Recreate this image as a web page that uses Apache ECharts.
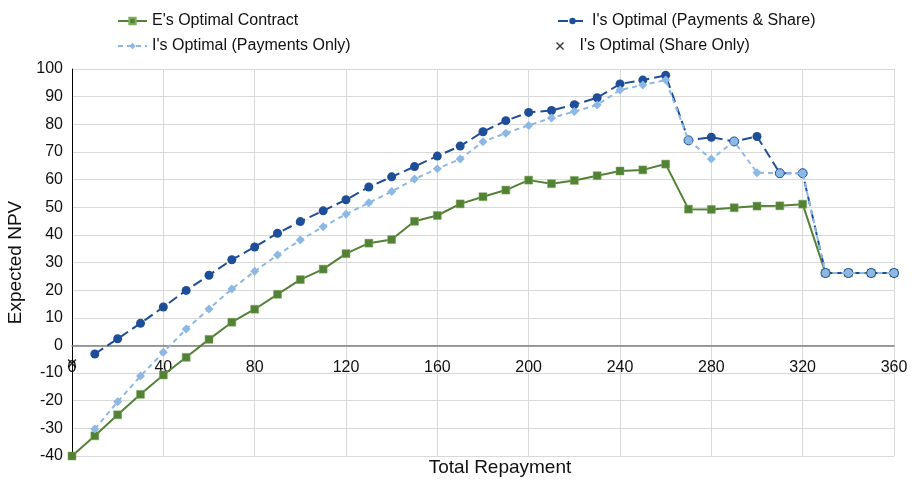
<!DOCTYPE html>
<html>
<head>
<meta charset="utf-8">
<script src="https://cdn.jsdelivr.net/npm/echarts@6/dist/echarts.min.js"></script>
<style>
html,body{margin:0;padding:0;background:#fff;}
#chart{width:918px;height:482px;}
</style>
</head>
<body>
<div id="chart"></div>
<script>
// Total repayment (x values)
var repayment = [0,10,20,30,40,50,60,70,80,90,100,110,120,130,140,150,160,170,180,190,200,210,220,230,240,250,260,270,280,290,300,310,320,330,340,350,360];
// E's Optimal Contract
var eOptimal = [-40,-32.7,-25.1,-17.7,-10.7,-4.3,2.2,8.4,13.1,18.5,23.8,27.6,33.2,37.0,38.3,44.9,47.0,51.2,53.8,56.2,59.8,58.5,59.7,61.4,63.1,63.5,65.6,49.3,49.2,49.8,50.4,50.5,51.1,26.2,26.2,26.2,26.2];
// I's Optimal (Payments & Share)
var iPayShare = [null,-3.1,2.4,8.0,13.9,19.9,25.4,31.0,35.6,40.6,44.8,48.7,52.7,57.3,61.0,64.7,68.5,72.1,77.3,81.3,84.3,85.0,87.1,89.6,94.6,96.0,97.7,74.2,75.3,73.8,75.6,62.3,62.3,26.2,26.2,26.2,26.2];
// I's Optimal (Payments Only)
var iPayOnly = [null,-30.2,-20.4,-11.1,-2.5,5.9,13.2,20.4,26.8,32.7,38.1,42.9,47.5,51.6,55.7,60.2,63.9,67.4,73.7,76.8,79.6,82.3,84.6,87.0,92.4,94.2,96.0,74.2,67.4,73.8,62.5,62.3,62.3,26.2,26.2,26.2,26.2];
// I's Optimal (Share Only)
var shareOnlyX = [0];
var shareOnlyY = [-6.5];

var xTicks = {min:0, max:360, interval:40};
var yTicks = {min:-40, max:100, interval:10};

var GREEN = '#538135';
var DARK = '#1F4E98';
var LIGHT = '#8DB8E4';
var FONT = 'Liberation Sans';

function pairs(ys){
  var out = [];
  for (var i=0;i<repayment.length;i++){ if (ys[i]!==null) out.push([repayment[i], ys[i]]); }
  return out;
}
var darkData = [];
var lightData = [];
for (var i=0;i<repayment.length;i++){
  if (iPayShare[i]!==null){
    var same = iPayShare[i]===iPayOnly[i];
    darkData.push(same ? {value:[repayment[i], iPayShare[i]], itemStyle:{color:LIGHT, borderColor:DARK, borderWidth:1}} : [repayment[i], iPayShare[i]]);
  }
  if (iPayOnly[i]!==null){
    var same2 = iPayShare[i]===iPayOnly[i];
    lightData.push(same2 ? {value:[repayment[i], iPayOnly[i]], symbol:'none'} : [repayment[i], iPayOnly[i]]);
  }
}
var shareData = shareOnlyX.map(function(x,i){return [x, shareOnlyY[i]];});

var XPATH = 'path://M0,0.12 L0.12,0 L0.5,0.38 L0.88,0 L1,0.12 L0.62,0.5 L1,0.88 L0.88,1 L0.5,0.62 L0.12,1 L0,0.88 L0.38,0.5 Z';

var chart = echarts.init(document.getElementById('chart'));
var legendBase = {itemWidth:29, itemHeight:8, itemGap:0, textStyle:{fontFamily:FONT, fontSize:16, color:'#111'}, selectedMode:false};
function lg(name, left, top){
  return Object.assign({}, legendBase, {data:[name], left:left, top:top});
}
chart.setOption({
  animation:false,
  backgroundColor:'#fff',
  legend:[
    lg("E's Optimal Contract", 112, 8),
    lg("I's Optimal (Payments & Share)", 552, 8),
    lg("I's Optimal (Payments Only)", 112, 33),
    lg("I's Optimal (Share Only)", 551, 33)
  ],
  grid:{left:72, right:24, top:69, bottom:26, containLabel:false, outerBoundsMode:'none'},
  xAxis:{
    type:'value', min:xTicks.min, max:xTicks.max, interval:xTicks.interval,
    name:'Total Repayment', nameLocation:'middle', nameGap:2,
    nameTextStyle:{fontFamily:FONT, fontSize:19, color:'#111', padding:[0,0,0,34], verticalAlign:'top'},
    axisLine:{onZero:true, lineStyle:{color:'#7f7f7f', width:1.5}},
    axisTick:{show:false},
    axisLabel:{fontFamily:FONT, fontSize:16, color:'#111', margin:-96, showMinLabel:true, showMaxLabel:true},
    splitLine:{show:true, lineStyle:{color:'#d9d9d9', width:1}}
  },
  yAxis:{
    type:'value', min:yTicks.min, max:yTicks.max, interval:yTicks.interval,
    name:'Expected NPV', nameLocation:'middle', nameGap:42,
    nameTextStyle:{fontFamily:FONT, fontSize:19, color:'#111'},
    axisLine:{show:true, onZero:false, lineStyle:{color:'#000', width:1}},
    axisTick:{show:false},
    axisLabel:{fontFamily:FONT, fontSize:16, color:'#111', margin:9},
    splitLine:{show:true, lineStyle:{color:'#d9d9d9', width:1}}
  },
  series:[
    {
      name:"E's Optimal Contract", type:'line', data:pairs(eOptimal),
      symbol:'rect', symbolSize:8, showAllSymbol:true,
      lineStyle:{color:GREEN, width:2}, itemStyle:{color:GREEN, borderColor:'#7fae5e', borderWidth:0.5}, z:2
    },
    {
      name:"I's Optimal (Payments & Share)", type:'line', data:darkData,
      symbol:'circle', symbolSize:9, showAllSymbol:true,
      lineStyle:{color:DARK, width:2, type:[10,5]}, itemStyle:{color:DARK}, z:3
    },
    {
      name:"I's Optimal (Payments Only)", type:'line', data:lightData,
      symbol:'diamond', symbolSize:9, showAllSymbol:true,
      lineStyle:{color:LIGHT, width:2, type:[5,4]}, itemStyle:{color:LIGHT}, z:4
    },
    {
      name:"I's Optimal (Share Only)", type:'scatter', data:shareData,
      symbol:XPATH, symbolSize:9, itemStyle:{color:'#000'}, z:5
    }
  ]
});
</script>
</body>
</html>
